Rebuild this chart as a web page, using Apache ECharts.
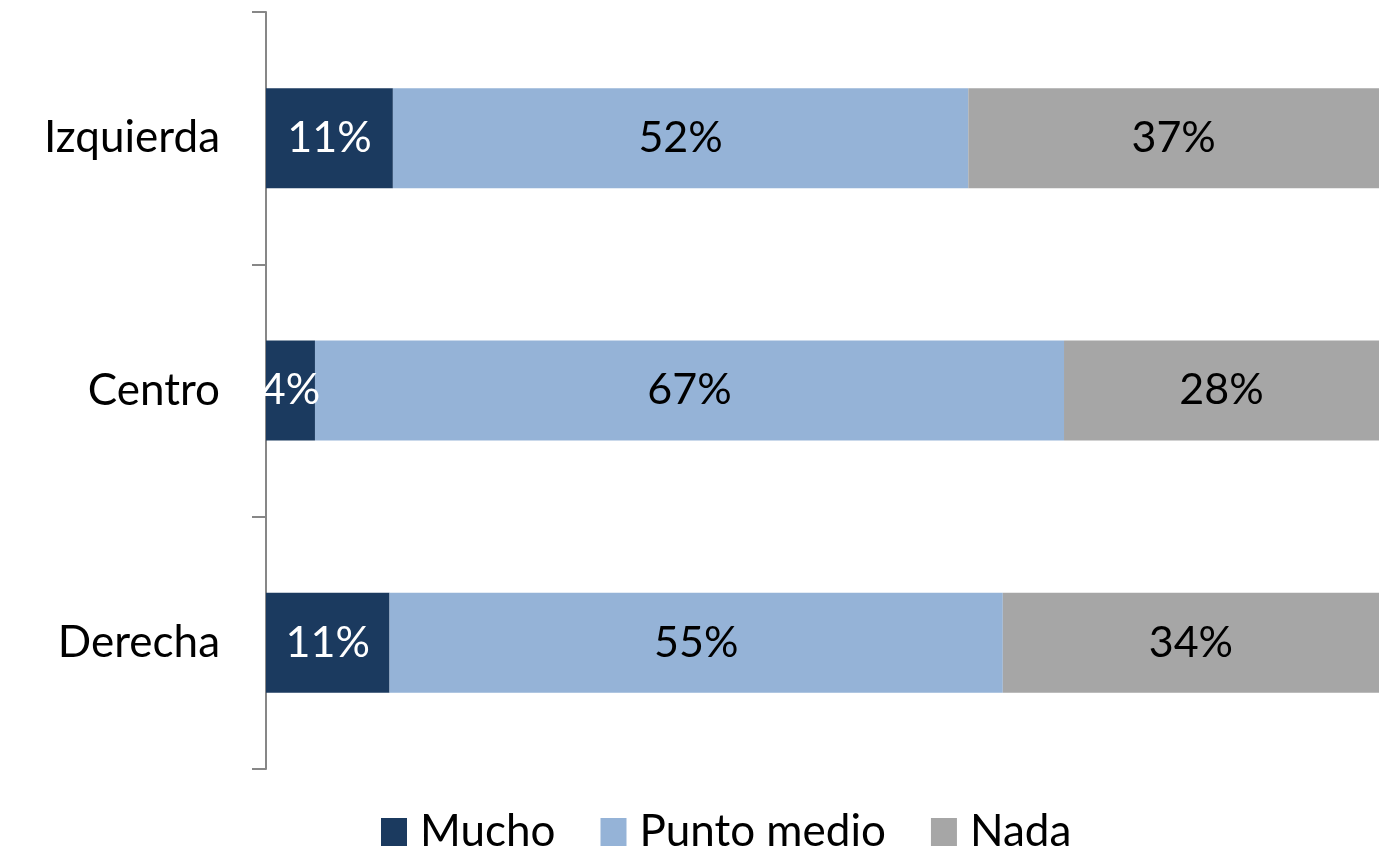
<!DOCTYPE html>
<html>
<head>
<meta charset="utf-8">
<script src="https://cdn.jsdelivr.net/npm/echarts@6/dist/echarts.min.js"></script>
<style>
  html, body { margin: 0; padding: 0; background: #fff; }
  #chart { width: 1379px; height: 856px; }
</style>
</head>
<body>
<div id="chart"></div>
<script>
// categories, top to bottom
const categories = ['Izquierda', 'Centro', 'Derecha']
// shares in %
const mucho = [11.4, 4.4, 11.1]
const puntoMedio = [51.7, 67.3, 55.1]
const nada = [36.9, 28.3, 33.8]

const font = 'Lato, "Noto Sans", sans-serif'
const pct = (p) => Math.round(p.value) + '%'

const chart = echarts.init(document.getElementById('chart'))

const barSeries = (name, data, color, labelColor) => ({
  name,
  type: 'bar',
  stack: 'total',
  data,
  barWidth: 100,
  itemStyle: { color },
  label: {
    show: true,
    position: 'inside',
    formatter: pct,
    color: labelColor,
    fontFamily: font,
    fontSize: 43
  },
  emphasis: { disabled: true }
})

chart.setOption({
  animation: false,
  grid: { left: 266, right: 0, top: 12, bottom: 87 },
  xAxis: {
    type: 'value',
    min: 0,
    max: 100,
    show: false,
    splitLine: { show: false }
  },
  yAxis: {
    type: 'category',
    data: categories,
    inverse: true,
    axisLine: { show: true, lineStyle: { color: '#878787', width: 2 } },
    axisTick: { show: true, length: 14, lineStyle: { color: '#878787', width: 2 } },
    axisLabel: { margin: 46, color: '#000', fontFamily: font, fontSize: 44 }
  },
  legend: {
    left: 376,
    top: 805,
    itemWidth: 26,
    itemHeight: 28,
    itemGap: 45,
    icon: 'rect',
    textStyle: { color: '#000', fontFamily: font, fontSize: 44, padding: [0, 0, 0, 8] },
    data: ['Mucho', 'Punto medio', 'Nada']
  },
  series: [
    barSeries('Mucho', mucho, '#1b3a5f', '#fff'),
    barSeries('Punto medio', puntoMedio, '#95b3d7', '#000'),
    barSeries('Nada', nada, '#a6a6a6', '#000')
  ]
})
</script>
</body>
</html>
